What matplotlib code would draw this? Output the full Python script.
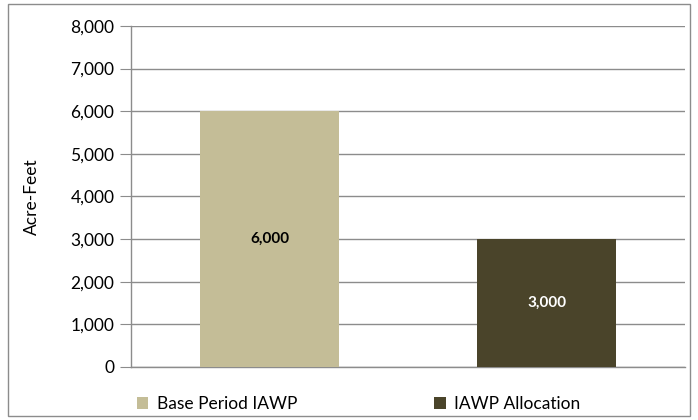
import matplotlib.pyplot as plt
from matplotlib.patches import Rectangle
from matplotlib.ticker import FuncFormatter

plt.rcParams['font.family'] = ['Lato', 'DejaVu Sans']

categories = ['Base Period IAWP', 'IAWP Allocation']
values = [6000, 3000]
colors = ['#C4BD97', '#4A442A']
label_colors = ['black', 'white']

fig = plt.figure(figsize=(6.98, 4.20), dpi=100)
ax = fig.add_axes([0.1877, 0.1262, 0.7937, 0.8119])

for i, (cat, val) in enumerate(zip(categories, values)):
    ax.bar(i, val, width=0.5, color=colors[i], label=cat, zorder=3)
    ax.text(i, val / 2, f'{val:,}', ha='center', va='center',
            fontsize=11, fontweight='bold', color=label_colors[i], zorder=4)

ax.set_xlim(-0.5, 1.5)
ax.set_ylim(0, 8000)
ax.set_yticks(range(0, 8001, 1000))
ax.yaxis.set_major_formatter(FuncFormatter(lambda v, p: f'{int(v):,}'))
ax.set_xticks([])
ax.grid(axis='y', color='#8C8C8C', linewidth=1, zorder=0)
ax.tick_params(axis='y', length=8, color='#8C8C8C', labelsize=12.5, pad=4)
for s in ['top', 'right']:
    ax.spines[s].set_visible(False)
for s in ['left', 'bottom']:
    ax.spines[s].set_color('#8C8C8C')
    ax.spines[s].set_linewidth(1)
ax.set_ylabel('Acre-Feet', fontsize=12.5, labelpad=22)

ax.legend(loc='upper left', bbox_to_anchor=(-0.002, -0.065), ncol=2,
          frameon=False, fontsize=12.5, handlelength=0.65, handleheight=0.65,
          handletextpad=0.5, columnspacing=7.9, borderaxespad=0)

fig.patches.append(Rectangle((8 / 698, 4 / 420), 682 / 698, 412 / 420,
                             transform=fig.transFigure, fill=False,
                             edgecolor='#8C8C8C', linewidth=1))

fig.savefig('out.png', dpi=100)
